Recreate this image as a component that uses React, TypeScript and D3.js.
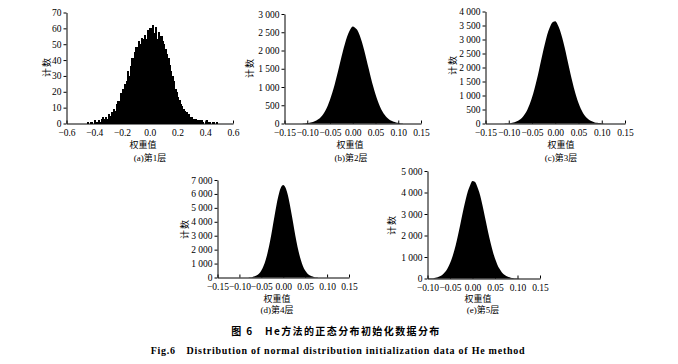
import React, { useRef, useEffect } from 'react';
import * as d3 from 'd3';

// layer 1: fine-grained counts, bins of 0.01 starting at -0.46
const layer1Start = -0.46;
const layer1Bin = 0.01;
const layer1Counts = [
  0, 1, 0, 1, 1, 0, 2, 1, 1, 2, 1, 3, 4, 3, 4, 3, 6, 5, 7, 6,
  9, 8, 12, 14, 13, 19, 22, 18, 25, 27, 33, 30, 36, 41, 38, 45, 48, 47, 52, 50,
  54, 53, 56, 53, 59, 55, 60, 54, 62, 57, 61, 53, 58, 52, 55, 52, 50, 47, 44, 41,
  37, 33, 30, 27, 22, 20, 17, 15, 12, 11, 9, 8, 7, 5, 6, 4, 4, 3, 2, 3,
  2, 1, 2, 2, 1, 0, 1, 2, 1, 1, 0, 1, 1, 0, 1, 0
];

// layers 2-5: histogram envelope sampled every 0.005
const layer2Start = -0.11;
const layer2Counts = [
  4, 7, 12, 20, 32, 52, 80, 121, 179, 256, 359, 489, 649, 840, 1058, 1300, 1555, 1814, 2060, 2281,
  2459, 2590, 2660, 2625, 2563, 2427, 2239, 2012, 1762, 1504, 1250, 1013, 799, 614, 461, 336, 239, 166, 112, 74,
  47, 29, 18, 10, 5
];
const layer3Start = -0.11;
const layer3Counts = [
  4, 7, 12, 21, 36, 61, 98, 153, 233, 344, 493, 685, 925, 1213, 1543, 1905, 2284, 2658, 3002, 3292,
  3504, 3621, 3650, 3535, 3342, 3065, 2730, 2360, 1980, 1613, 1275, 979, 729, 527, 370, 252, 167, 107, 67, 40,
  24, 14, 7, 4, 2
];
const layer4Start = -0.09;
const layer4Counts = [
  2, 4, 9, 20, 42, 85, 161, 292, 503, 821, 1274, 1876, 2624, 3487, 4399, 5271, 5998, 6480, 6650, 6470,
  5985, 5250, 4380, 3470, 2610, 1865, 1266, 815, 498, 289, 158, 83, 41, 19, 9, 4, 2
];
const layer5Start = -0.1;
const layer5Counts = [
  4, 7, 14, 25, 45, 77, 129, 207, 322, 485, 704, 989, 1342, 1760, 2229, 2729, 3229, 3691, 4077, 4351,
  4530, 4500, 4306, 4008, 3603, 3131, 2628, 2132, 1671, 1266, 927, 655, 448, 296, 189, 116, 69, 40, 22, 12,
  6, 3
];
const envelopeStep = 0.005;

const xTicksWide = [-0.6, -0.4, -0.2, 0, 0.2, 0.4, 0.6];
const xTicksFine = [-0.15, -0.1, -0.05, 0, 0.05, 0.1, 0.15];
const xTicksLayer5 = [-0.1, -0.05, 0, 0.05, 0.1, 0.15];
const yTicks1 = [0, 10, 20, 30, 40, 50, 60, 70];
const yTicks2 = [0, 500, 1000, 1500, 2000, 2500, 3000];
const yTicks3 = [0, 500, 1000, 1500, 2000, 2500, 3000, 3500, 4000];
const yTicks4 = [0, 1000, 2000, 3000, 4000, 5000, 6000, 7000];
const yTicks5 = [0, 1000, 2000, 3000, 4000, 5000];

const captions = ['(a)第1层', '(b)第2层', '(c)第3层', '(d)第4层', '(e)第5层'];
const xTitle = '权重值';
const yTitle = '计数';
const figTitleCn = '图 6　He方法的正态分布初始化数据分布';
const figTitleEn = 'Fig.6　Distribution of normal distribution initialization data of He method';

const SERIF = "'Liberation Serif', 'Noto Sans CJK SC', serif";
const CJK = "'Noto Sans CJK SC', sans-serif";

const fmtX = (digits) => (v) => (v < -1e-9 ? '\u2212' : '') + Math.abs(v).toFixed(digits);
const fmtY = (v) => d3.format(',')(v).replace(/,/g, ' ');

const panels = [
  { bars: layer1Counts, start: layer1Start, xTicks: xTicksWide, yTicks: yTicks1, digits: 1, pad: 5.5,
    left: 66.5, right: 233, top: 12.5, bottom: 123.5, yTitleX: 47, yTitleY: 67, xTitleX: 143, capX: 150, xTitleY: 144.5, capY: 157.5 },
  { env: layer2Counts, start: layer2Start, xTicks: xTicksFine, yTicks: yTicks2, digits: 2, pad: 5.5,
    left: 284.5, right: 421, top: 14, bottom: 123.5, yTitleX: 250, yTitleY: 68, xTitleX: 350, capX: 351, xTitleY: 144.5, capY: 157.5 },
  { env: layer3Counts, start: layer3Start, xTicks: xTicksFine, yTicks: yTicks3, digits: 2, pad: 5.5,
    left: 485.5, right: 625, top: 11.5, bottom: 123.5, yTitleX: 453, yTitleY: 65, xTitleX: 561, capX: 561, xTitleY: 144.5, capY: 157.5 },
  { env: layer4Counts, start: layer4Start, xTicks: xTicksFine, yTicks: yTicks4, digits: 2, pad: 5.5,
    left: 217.5, right: 349, top: 180, bottom: 277.5, yTitleX: 185, yTitleY: 229, xTitleX: 277, capX: 277, xTitleY: 299, capY: 310 },
  { env: layer5Counts, start: layer5Start, xTicks: xTicksLayer5, yTicks: yTicks5, digits: 2, pad: 5.5,
    left: 427.5, right: 540, top: 171, bottom: 278.5, yTitleX: 392, yTitleY: 225, xTitleX: 478, capX: 483, xTitleY: 299, capY: 310 },
];

function drawPanel(g, p, i) {
  const xs = p.xTicks;
  const ys = p.yTicks;
  const x = d3.scaleLinear().domain([xs[0], xs[xs.length - 1]]).range([p.left, p.right]);
  const y = d3.scaleLinear().domain([ys[0], ys[ys.length - 1]]).range([p.bottom, p.top]);

  if (p.bars) {
    // bars snap to pixels and overlap slightly so the body stays solid black
    g.append('g')
      .attr('shape-rendering', 'crispEdges')
      .selectAll('rect')
      .data(p.bars.map((c, k) => ({ c, x0: p.start + k * layer1Bin })).filter(d => d.c > 0))
      .enter()
      .append('rect')
      .attr('x', d => x(d.x0) - 0.4)
      .attr('width', x(layer1Bin) - x(0) + 0.8)
      .attr('y', d => y(d.c))
      .attr('height', d => y(0) - y(d.c))
      .attr('fill', '#000');
  } else {
    const area = d3.area()
      .x((d, k) => x(p.start + k * envelopeStep))
      .y0(y(0))
      .y1(d => y(d))
      .curve(d3.curveMonotoneX);
    g.append('path').datum(p.env).attr('d', area).attr('fill', '#000');
  }

  const xAxis = d3.axisBottom(x).tickValues(xs).tickFormat(fmtX(p.digits))
    .tickSizeInner(-3).tickSizeOuter(0).tickPadding(p.pad);
  const yAxis = d3.axisLeft(y).tickValues(ys).tickFormat(fmtY)
    .tickSizeInner(3).tickSizeOuter(0).tickPadding(2);

  const xg = g.append('g').attr('transform', `translate(0, ${p.bottom})`).call(xAxis);
  const yg = g.append('g').attr('transform', `translate(${p.left}, 0)`).call(yAxis);
  [xg, yg].forEach(ax => {
    ax.attr('font-family', SERIF).attr('font-size', 9.5);
    ax.selectAll('path, line').attr('stroke', '#000').attr('stroke-width', 1);
    ax.selectAll('text').attr('fill', '#000');
  });

  g.append('text')
    .attr('transform', `translate(${p.yTitleX}, ${p.yTitleY}) rotate(-90)`)
    .attr('text-anchor', 'middle').attr('dy', '0.35em')
    .attr('font-family', CJK).attr('font-size', 9).attr('letter-spacing', 1)
    .text(yTitle);
  g.append('text')
    .attr('x', p.xTitleX).attr('y', p.xTitleY).attr('dy', '0.35em')
    .attr('text-anchor', 'middle')
    .attr('font-family', CJK).attr('font-size', 9)
    .text(xTitle);
  g.append('text')
    .attr('x', p.capX).attr('y', p.capY).attr('dy', '0.35em')
    .attr('text-anchor', 'middle')
    .attr('font-family', SERIF).attr('font-size', 9)
    .text(captions[i]);
}

export default function App() {
  const ref = useRef(null);

  useEffect(() => {
    const svg = d3.select(ref.current);
    svg.selectAll('*').remove();
    panels.forEach((p, i) => drawPanel(svg.append('g'), p, i));

    svg.append('text')
      .attr('x', 336).attr('y', 331).attr('dy', '0.35em')
      .attr('text-anchor', 'middle')
      .attr('font-family', CJK).attr('font-weight', 700).attr('font-size', 10)
      .attr('letter-spacing', 1.4)
      .text(figTitleCn);
    svg.append('text')
      .attr('x', 338).attr('y', 350).attr('dy', '0.35em')
      .attr('text-anchor', 'middle')
      .attr('font-family', SERIF).attr('font-weight', 700).attr('font-size', 10)
      .attr('letter-spacing', 0.75)
      .text(figTitleEn);
  }, []);

  return (
    <svg
      ref={ref}
      width={678}
      height={364}
      style={{ position: 'absolute', left: 0, top: 0, background: '#fff' }}
    />
  );
}
